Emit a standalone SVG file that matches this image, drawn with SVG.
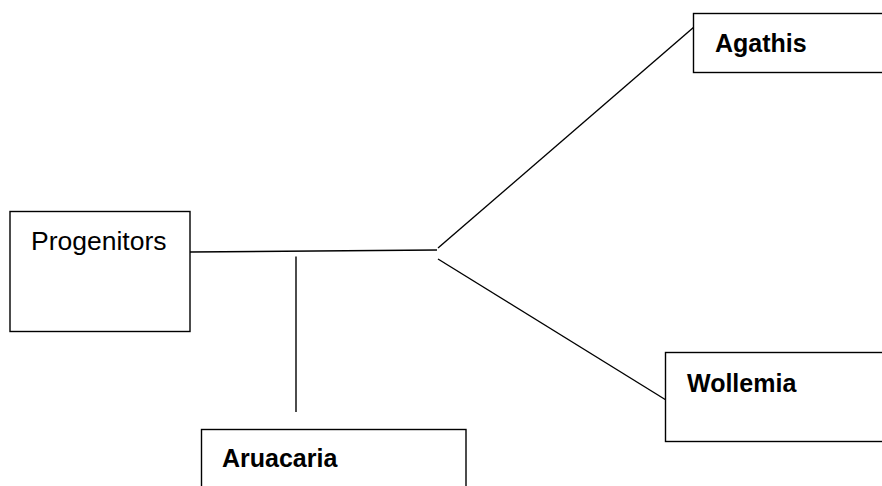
<svg xmlns="http://www.w3.org/2000/svg" width="882" height="486" viewBox="0 0 882 486">
<style>
.box{fill:#fff;stroke:#000;stroke-width:1.4}
.ln{fill:none;stroke:#000;stroke-width:1.4}
.reg{font-family:"Liberation Sans",Arial,sans-serif;font-size:26.5px;fill:#000}
.bold{font-family:"Liberation Sans",Arial,sans-serif;font-size:25px;font-weight:bold;fill:#000}
</style>
<rect width="882" height="486" fill="#fff"/>
<g id="connectors">
<line class="ln" x1="190" y1="252" x2="437" y2="250"/>
<line class="ln" x1="296" y1="256.5" x2="296" y2="412"/>
<line class="ln" x1="438" y1="248" x2="694" y2="27"/>
<line class="ln" x1="438" y1="259" x2="666" y2="400"/>
</g>
<g id="progenitors">
<rect class="box" x="10" y="211.5" width="180" height="120"/>
<text class="reg" x="31" y="250">Progenitors</text>
</g>
<g id="agathis">
<rect class="box" x="693.5" y="13.5" width="200" height="59"/>
<text class="bold" x="715" y="52">Agathis</text>
</g>
<g id="wollemia">
<rect class="box" x="665.5" y="352.5" width="230" height="89"/>
<text class="bold" x="687" y="392">Wollemia</text>
</g>
<g id="aruacaria">
<rect class="box" x="201.5" y="429.5" width="264.5" height="70"/>
<text class="bold" x="222" y="467">Aruacaria</text>
</g>
</svg>
